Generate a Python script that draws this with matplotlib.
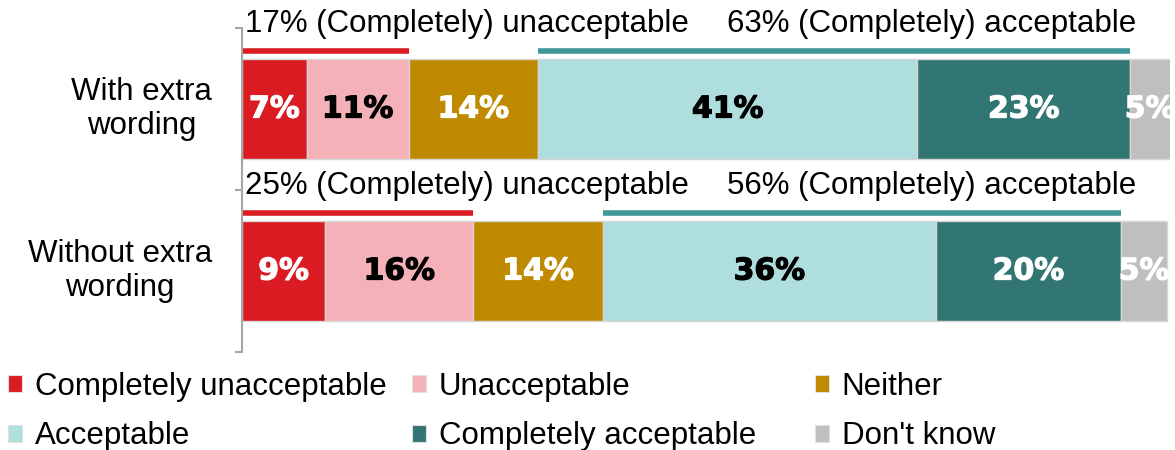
import matplotlib
matplotlib.use("Agg")
import matplotlib.pyplot as plt
import matplotlib.patheffects as pe
from matplotlib.patches import Patch

# ---- data -------------------------------------------------------------
groups = ["With extra\nwording", "Without extra\nwording"]
categories = ["Completely unacceptable", "Unacceptable", "Neither",
              "Acceptable", "Completely acceptable", "Don't know"]
with_extra = [7, 11, 14, 41, 23, 5]
without_extra = [9, 16, 14, 36, 20, 5]
net_unacceptable = [17, 25]
net_acceptable = [63, 56]

colors = ["#DA1B21", "#F4B2B8", "#C08A00", "#AEDEDE", "#327674", "#BFBFBF"]
label_colors = ["white", "black", "white", "black", "white", "white"]
red_line = "#DA1B21"
teal_line = "#3F9797"

rows = [with_extra, without_extra]

# ---- figure -----------------------------------------------------------
W, H = 1175, 450
fig = plt.figure(figsize=(W / 100, H / 100), dpi=100)
ax = fig.add_axes([242 / W, 1 - 352 / H, (1170 - 242) / W, 324 / H])
XMAX = 100.3
ax.set_xlim(0, XMAX)
ax.set_ylim(2, 0)

regular = "Liberation Sans"
fs = 22.5
bar_h = 0.62

for i, vals in enumerate(rows):
    y = i + 0.5
    left = 0
    for j, v in enumerate(vals):
        ax.barh(y, v, left=left, height=bar_h, color=colors[j],
                edgecolor="#d6d6d6", linewidth=1.0)
        # centre the value label on the visible part of the segment
        cx = (left + min(left + v, XMAX)) / 2
        ax.text(cx, y, f"{v}%", ha="center", va="center",
                color=label_colors[j], fontsize=21.5, fontweight="bold",
                family="DejaVu Sans",
                path_effects=[pe.withStroke(linewidth=0.9,
                                            foreground=label_colors[j])])
        left += v

    # summary bars above each row
    neg_end = vals[0] + vals[1]
    pos_start = vals[0] + vals[1] + vals[2]
    pos_end = pos_start + vals[3] + vals[4]
    ly = y - bar_h / 2 - 0.048
    ax.plot([0, neg_end], [ly, ly], color=red_line, lw=4, solid_capstyle="butt",
            clip_on=False)
    ax.plot([pos_start, pos_end], [ly, ly], color=teal_line, lw=4,
            solid_capstyle="butt", clip_on=False)

    ty = y - 0.522
    ax.text(0.3, ty, f"{net_unacceptable[i]}% (Completely) unacceptable",
            ha="left", va="center", fontsize=fs, family=regular, clip_on=False)
    ax.text(96.6, ty, f"{net_acceptable[i]}% (Completely) acceptable",
            ha="right", va="center", fontsize=fs, family=regular, clip_on=False)

    # group label to the left of the axis
    ax.text(-30 / 928, y, groups[i], transform=ax.get_yaxis_transform(),
            ha="right", va="center", fontsize=fs, family=regular,
            multialignment="center", linespacing=1.15)

# axis styling
for s in ["top", "right", "bottom"]:
    ax.spines[s].set_visible(False)
ax.spines["left"].set_color("#a6a6a6")
ax.spines["left"].set_linewidth(1.5)
ax.set_yticks([0, 1, 2])
ax.set_yticklabels([])
ax.tick_params(axis="y", length=5, width=1.5, color="#a6a6a6", direction="out")
ax.set_xticks([])

# legend: three columns of two entries
handles = [Patch(facecolor=c, edgecolor="#e0e0e0", linewidth=0.8) for c in colors]
col_x = [8, 412, 815]
for k in range(3):
    idx = [k, k + 3]
    fig.legend([handles[n] for n in idx], [categories[n] for n in idx],
               loc="upper left", bbox_to_anchor=(col_x[k] / W, 1 - 372 / H),
               frameon=False, prop={"family": regular, "size": fs},
               handlelength=0.45, handleheight=0.45, handletextpad=0.4,
               labelspacing=0.62, borderpad=0, borderaxespad=0)

fig.savefig("out.png", dpi=100)
